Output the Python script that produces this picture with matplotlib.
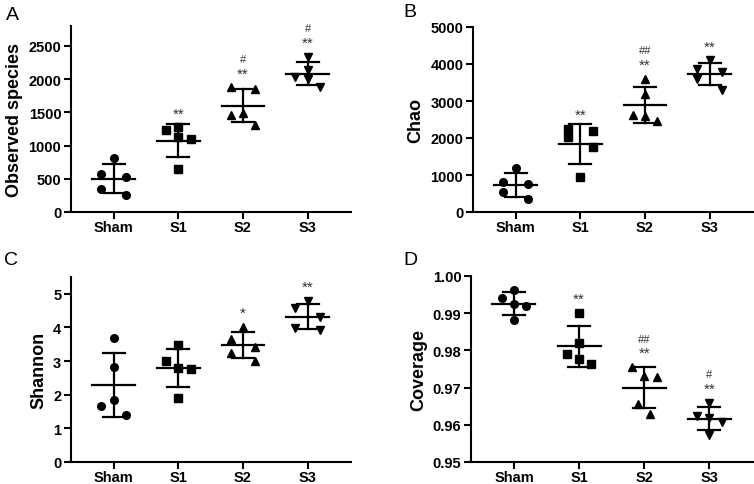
import numpy as np
import matplotlib
matplotlib.use("Agg")
import matplotlib.pyplot as plt

plt.rcParams['font.family'] = ['Liberation Sans', 'DejaVu Sans']

groups = ["Sham", "S1", "S2", "S3"]
markers = ["o", "s", "^", "v"]

obs_sham = [808, 572, 532, 351, 251]
obs_s1 = [1235, 1275, 1124, 1094, 643]
obs_s2 = [1877, 1847, 1456, 1496, 1315]
obs_s3 = [2339, 2139, 2038, 2008, 1888]

chao_sham = [1196, 809, 746, 540, 351]
chao_s1 = [2248, 2032, 2194, 1763, 953]
chao_s2 = [3597, 3201, 2635, 2590, 2446]
chao_s3 = [4101, 3867, 3795, 3597, 3309]

shan_sham = [3.68, 2.82, 1.67, 1.83, 1.41]
shan_s1 = [3.48, 3.01, 2.80, 2.77, 1.90]
shan_s2 = [4.01, 3.66, 3.41, 3.25, 3.00]
shan_s3 = [4.78, 4.58, 4.31, 3.97, 3.93]

cov_sham = [0.9963, 0.9940, 0.9925, 0.9920, 0.9882]
cov_s1 = [0.9901, 0.9820, 0.9791, 0.9777, 0.9764]
cov_s2 = [0.9755, 0.9732, 0.9728, 0.9656, 0.9628]
cov_s3 = [0.9659, 0.9623, 0.9619, 0.9608, 0.9572]

star_A = ["", "**", "**", "**"]
hash_A = ["", "", "#", "#"]
star_B = ["", "**", "**", "**"]
hash_B = ["", "", "##", ""]
star_C = ["", "", "*", "**"]
hash_C = ["", "", "", ""]
star_D = ["", "**", "**", "**"]
hash_D = ["", "", "##", "#"]

panels = [
    dict(letter="A", ylabel="Observed species", data=[obs_sham, obs_s1, obs_s2, obs_s3],
         ylim=(0, 2800), yticks=[0, 500, 1000, 1500, 2000, 2500], fmt="{:.0f}",
         stars=star_A, hashes=hash_A, rect=[71, 27, 351, 213], lpos=(6, 20)),
    dict(letter="B", ylabel="Chao", data=[chao_sham, chao_s1, chao_s2, chao_s3],
         ylim=(0, 5000), yticks=[0, 1000, 2000, 3000, 4000, 5000], fmt="{:.0f}",
         stars=star_B, hashes=hash_B, rect=[473, 28, 753, 213], lpos=(403, 17)),
    dict(letter="C", ylabel="Shannon", data=[shan_sham, shan_s1, shan_s2, shan_s3],
         ylim=(0, 5.5), yticks=[0, 1, 2, 3, 4, 5], fmt="{:.0f}",
         stars=star_C, hashes=hash_C, rect=[71, 278, 351, 463], lpos=(4, 265)),
    dict(letter="D", ylabel="Coverage", data=[cov_sham, cov_s1, cov_s2, cov_s3],
         ylim=(0.95, 1.00), yticks=[0.95, 0.96, 0.97, 0.98, 0.99, 1.00], fmt="{:.2f}",
         stars=star_D, hashes=hash_D, rect=[471, 277, 753, 463], lpos=(403, 265)),
]

W, H = 754, 485
fig = plt.figure(figsize=(W / 100, H / 100), dpi=100)

jitter_sets = {
    "A": [[0, -1, 1, -1, 1], [-1, 0, 0, 1, 0], [-1, 1, -1, 0, 1], [0, 0, -1, 0, 1]],
    "B": [[0, -1, 1, -1, 1], [-1, -1, 1, 1, 0], [0, 0, -1, 0, 1], [0, -1, 1, -1, 1]],
    "C": [[0, 0, -1, 0, 1], [0, -1, 0, 1, 0], [0, -1, 1, -1, 1], [0, -1, 1, -1, 1]],
    "D": [[0, -1, 0, 1, 0], [0, 0, -1, 0, 1], [-1, 0, 1, -0.5, 0.5], [0, -1, 0, 1, 0]],
}
jstep = 0.19

for p in panels:
    l, t, r, b = p["rect"]
    ax = fig.add_axes([l / W, 1 - b / H, (r - l) / W, (b - t) / H])
    jit = jitter_sets[p["letter"]]
    for i, vals in enumerate(p["data"]):
        vals = np.array(vals)
        xs = i + np.array(jit[i]) * jstep
        ax.plot(xs, vals, linestyle="none", marker=markers[i], color="black",
                markersize=5.5, zorder=3, clip_on=False)
        m = vals.mean()
        sd = vals.std(ddof=1)
        ax.plot([i - 0.33, i + 0.33], [m, m], color="black", lw=1.6, zorder=2)
        ax.plot([i, i], [m - sd, m + sd], color="black", lw=1.6, zorder=2)
        ax.plot([i - 0.17, i + 0.17], [m + sd, m + sd], color="black", lw=1.6, zorder=2)
        ax.plot([i - 0.17, i + 0.17], [m - sd, m - sd], color="black", lw=1.6, zorder=2)
        top = vals.max()
        if p["stars"][i]:
            ax.annotate(p["stars"][i], xy=(i, top), xytext=(0, 5), textcoords="offset points",
                        ha="center", va="bottom", fontsize=11, color="#333333")
        if p["hashes"][i]:
            ax.annotate(p["hashes"][i], xy=(i, top), xytext=(0, 17), textcoords="offset points",
                        ha="center", va="bottom", fontsize=8, color="#333333")
    ax.set_xlim(-0.66, 3.67)
    ax.set_ylim(*p["ylim"])
    ax.set_yticks(p["yticks"])
    ax.set_yticklabels([p["fmt"].format(v) for v in p["yticks"]])
    ax.set_xticks(range(len(groups)))
    ax.set_xticklabels(groups)
    for s in ["top", "right"]:
        ax.spines[s].set_visible(False)
    for s in ["left", "bottom"]:
        ax.spines[s].set_linewidth(1.5)
    ax.tick_params(axis="both", direction="out", length=5, width=1.5, labelsize=10.5, pad=2)
    ax.tick_params(axis="x", pad=1)
    for lab in ax.get_xticklabels() + ax.get_yticklabels():
        lab.set_fontweight("bold")
    ax.set_ylabel(p["ylabel"], fontsize=13, fontweight="bold", labelpad=4)
    lx, ly = p["lpos"]
    fig.text(lx / W, 1 - ly / H, p["letter"], fontsize=14, ha="left", va="baseline")

fig.savefig("out.png", dpi=100)
